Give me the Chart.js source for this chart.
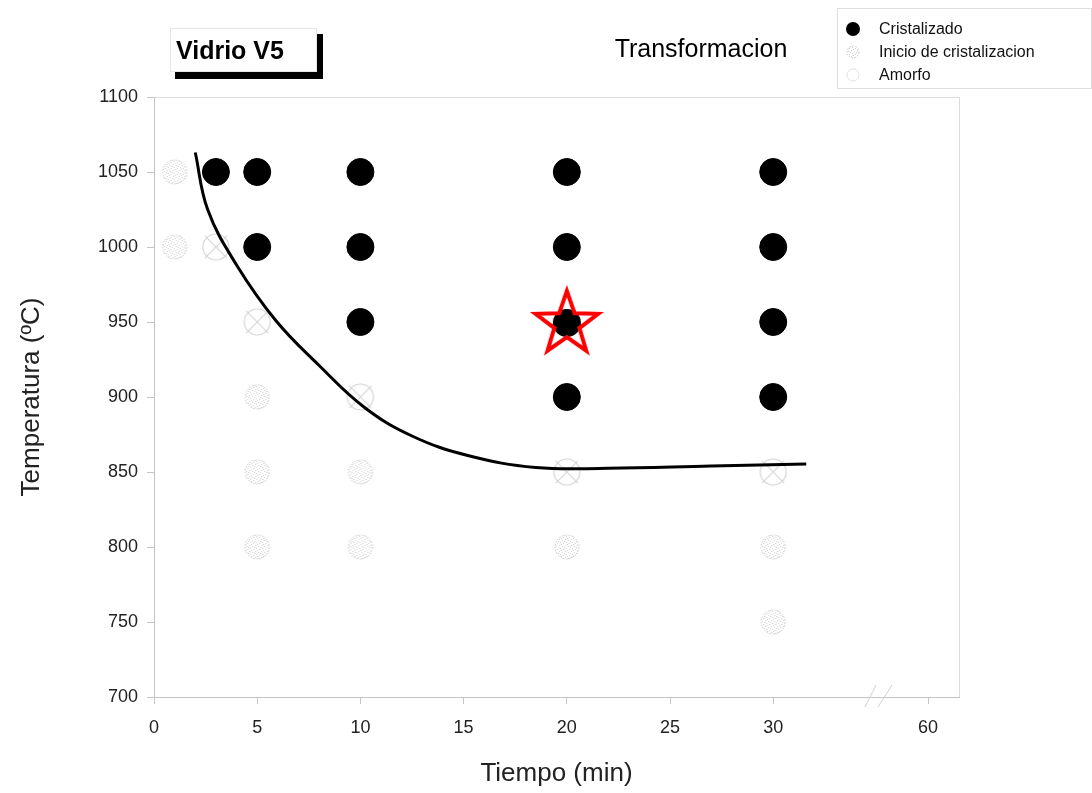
<!DOCTYPE html>
<html>
<head>
<meta charset="utf-8">
<script src="https://cdn.jsdelivr.net/npm/chart.js@4.4.1/dist/chart.umd.min.js"></script>
<style>
  html, body { margin: 0; padding: 0; background: #fff; }
  #wrap { width: 1092px; height: 793px; position: relative; }
</style>
</head>
<body>
<div id="wrap"><canvas id="myChart" width="1092" height="793"></canvas></div>
<script>
// data
const cristalizado = [
  {x: 3, y: 1050}, {x: 5, y: 1050}, {x: 10, y: 1050}, {x: 20, y: 1050}, {x: 30, y: 1050},
  {x: 5, y: 1000}, {x: 10, y: 1000}, {x: 20, y: 1000}, {x: 30, y: 1000},
  {x: 10, y: 950}, {x: 20, y: 950}, {x: 30, y: 950},
  {x: 20, y: 900}, {x: 30, y: 900}
];
const inicio = [
  {x: 3, y: 1000}, {x: 5, y: 950}, {x: 10, y: 900}, {x: 20, y: 850}, {x: 30, y: 850}
];
const amorfo = [
  {x: 1, y: 1050}, {x: 1, y: 1000}, {x: 5, y: 900}, {x: 5, y: 850}, {x: 10, y: 850},
  {x: 5, y: 800}, {x: 10, y: 800}, {x: 20, y: 800}, {x: 30, y: 800}, {x: 30, y: 750}
];
const seleccion = [{x: 20, y: 950}];
// transformation curve
const curvaX = [2.0, 2.6, 4.0, 5.9, 8.0, 10.2, 12.5, 15.2, 18.5, 22.0, 27.0, 31.6];
const curvaY = [1063, 1025, 988, 951, 921, 893, 874, 861, 853, 852.5, 854, 855.3];

const xTicks = [0, 5, 10, 15, 20, 25, 30, 37.5];
const xTickLabels = ['0', '5', '10', '15', '20', '25', '30', '60'];
const yTicks = [700, 750, 800, 850, 900, 950, 1000, 1050, 1100];

const FONT = "'Liberation Sans', Arial, sans-serif";
const AXIS_GRAY = '#c4c4c4';

// speckled fill pattern for the grey markers
function speckle() {
  const c = document.createElement('canvas');
  c.width = 6; c.height = 6;
  const g = c.getContext('2d');
  g.fillStyle = '#ffffff';
  g.fillRect(0, 0, 6, 6);
  g.fillStyle = '#cfcfcf';
  [[0, 0], [3, 1], [1, 3], [4, 4], [5, 2], [2, 5]].forEach(p => g.fillRect(p[0], p[1], 1, 1));
  return g.createPattern(c, 'repeat');
}

function dottedCircle(r) {
  const s = r * 2 + 4;
  const c = document.createElement('canvas');
  c.width = s; c.height = s;
  const g = c.getContext('2d');
  g.beginPath();
  g.arc(s / 2, s / 2, r, 0, Math.PI * 2);
  g.fillStyle = speckle();
  g.fill();
  g.setLineDash([1.5, 1.5]);
  g.strokeStyle = '#c8c8c8';
  g.lineWidth = 1;
  g.stroke();
  return c;
}

function crossCircle(r) {
  const s = r * 2 + 6;
  const c = document.createElement('canvas');
  c.width = s; c.height = s;
  const g = c.getContext('2d');
  const m = s / 2;
  g.strokeStyle = '#d6d6d6';
  g.lineWidth = 1.2;
  g.beginPath();
  g.arc(m, m, r, 0, Math.PI * 2);
  g.stroke();
  const d = r * 0.85;
  g.beginPath();
  g.moveTo(m - d, m - d); g.lineTo(m + d, m + d);
  g.moveTo(m + d, m - d); g.lineTo(m - d, m + d);
  g.stroke();
  return c;
}

function starPath(g, m, R) {
  const ri = R * 0.4;
  g.beginPath();
  for (let i = 0; i < 10; i++) {
    const a = -Math.PI / 2 + i * Math.PI / 5;
    const rr = i % 2 === 0 ? R : ri;
    const px = m + rr * Math.cos(a), py = m + rr * Math.sin(a) + 2;
    if (i === 0) g.moveTo(px, py); else g.lineTo(px, py);
  }
  g.closePath();
}

function starMark(R) {
  const s = R * 2 + 8;
  const c = document.createElement('canvas');
  c.width = s; c.height = s;
  const g = c.getContext('2d');
  const m = s / 2;
  starPath(g, m, R);
  g.fillStyle = '#ffffff';
  g.fill();
  g.save();
  starPath(g, m, R - 5);
  g.clip();
  g.beginPath();
  g.arc(m, m + 1, 14, 0, Math.PI * 2);
  g.fillStyle = '#000000';
  g.fill();
  g.restore();
  starPath(g, m, R);
  g.strokeStyle = '#ff0000';
  g.lineWidth = 4;
  g.lineJoin = 'miter';
  g.stroke();
  return c;
}

const framePlugin = {
  id: 'frame',
  afterDraw(chart) {
    const ctx = chart.ctx;
    const a = chart.chartArea;
    ctx.save();
    ctx.strokeStyle = '#dcdcdc';
    ctx.lineWidth = 1;
    ctx.beginPath();
    ctx.moveTo(a.left, a.top + 0.5); ctx.lineTo(a.right + 0.5, a.top + 0.5);
    ctx.lineTo(a.right + 0.5, a.bottom);
    ctx.stroke();

    // axis break marks
    ctx.strokeStyle = '#d0d0d0';
    ctx.beginPath();
    ctx.moveTo(865, a.bottom + 10); ctx.lineTo(876, a.bottom - 12);
    ctx.moveTo(878, a.bottom + 10); ctx.lineTo(892, a.bottom - 12);
    ctx.stroke();

    // Vidrio V5 box
    ctx.fillStyle = '#000';
    ctx.fillRect(175, 72, 148, 7);
    ctx.fillRect(317, 34, 6, 45);
    ctx.fillStyle = '#fff';
    ctx.fillRect(170, 28, 147, 44);
    ctx.strokeStyle = '#e6e6e6';
    ctx.strokeRect(170.5, 28.5, 146, 43);
    ctx.fillStyle = '#000';
    ctx.font = 'bold 25px ' + FONT;
    ctx.textBaseline = 'middle';
    ctx.textAlign = 'left';
    ctx.fillText('Vidrio V5', 176, 52);

    ctx.font = '25px ' + FONT;
    ctx.textAlign = 'center';
    ctx.fillText('Transformacion', 701, 50);

    // legend
    ctx.strokeStyle = '#dedede';
    ctx.strokeRect(837.5, 8.5, 254, 80);
    ctx.beginPath();
    ctx.arc(853, 29, 7, 0, Math.PI * 2);
    ctx.fillStyle = '#000';
    ctx.fill();
    ctx.drawImage(dottedCircle(6), 845, 44);
    ctx.beginPath();
    ctx.arc(853, 75, 6, 0, Math.PI * 2);
    ctx.strokeStyle = '#e0e0e0';
    ctx.stroke();
    ctx.fillStyle = '#111';
    ctx.font = '16px ' + FONT;
    ctx.textAlign = 'left';
    ctx.fillText('Cristalizado', 879, 30);
    ctx.fillText('Inicio de cristalizacion', 879, 53);
    ctx.fillText('Amorfo', 879, 76);
    ctx.restore();
  }
};

const ctx = document.getElementById('myChart').getContext('2d');
const myChart = new Chart(ctx, {
  type: 'scatter',
  data: {
    datasets: [
      {
        label: 'Seleccion',
        data: seleccion,
        pointStyle: starMark(33),
        pointRadius: 35,
        order: 0
      },
      {
        type: 'line',
        label: 'Curva',
        data: curvaX.map((x, i) => ({x: x, y: curvaY[i]})),
        borderColor: '#000',
        borderWidth: 3,
        pointRadius: 0,
        tension: 0.4,
        fill: false,
        order: 1
      },
      {
        label: 'Cristalizado',
        data: cristalizado,
        backgroundColor: '#000',
        borderColor: '#000',
        pointRadius: 13.5,
        order: 2
      },
      {
        label: 'Inicio de cristalizacion',
        data: inicio,
        pointStyle: crossCircle(13),
        pointRadius: 15,
        order: 3
      },
      {
        label: 'Amorfo',
        data: amorfo,
        pointStyle: dottedCircle(12),
        pointRadius: 14,
        order: 3
      }
    ]
  },
  options: {
    responsive: false,
    animation: false,
    layout: { padding: { top: 97, right: 133, left: 12, bottom: 0 } },
    scales: {
      x: {
        type: 'linear',
        min: 0,
        max: 39,
        afterBuildTicks: (scale) => { scale.ticks = xTicks.map(v => ({value: v})); },
        afterFit: (scale) => { scale.height = 96; },
        ticks: {
          autoSkip: false,
          maxRotation: 0,
          padding: 13,
          color: '#222',
          font: { family: FONT, size: 18 },
          callback: (value) => xTickLabels[xTicks.indexOf(value)]
        },
        grid: { drawOnChartArea: false, drawTicks: true, tickLength: 7, color: AXIS_GRAY },
        border: { display: true, color: AXIS_GRAY },
        title: {
          display: true,
          text: 'Tiempo (min)',
          color: '#222',
          font: { family: FONT, size: 26 },
          padding: { top: 10 }
        }
      },
      y: {
        min: 700,
        max: 1100,
        afterBuildTicks: (scale) => { scale.ticks = yTicks.map(v => ({value: v})); },
        afterFit: (scale) => { scale.width = 142; },
        ticks: {
          padding: 9,
          color: '#222',
          font: { family: FONT, size: 18 },
          callback: (value) => String(value)
        },
        grid: { drawOnChartArea: false, drawTicks: true, tickLength: 7, color: AXIS_GRAY },
        border: { display: true, color: AXIS_GRAY },
        title: {
          display: true,
          text: 'Temperatura (ºC)',
          color: '#222',
          font: { family: FONT, size: 26 },
          padding: { bottom: 0 }
        }
      }
    },
    plugins: {
      legend: { display: false },
      title: { display: false },
      tooltip: { enabled: false }
    }
  },
  plugins: [framePlugin]
});
</script>
</body>
</html>
